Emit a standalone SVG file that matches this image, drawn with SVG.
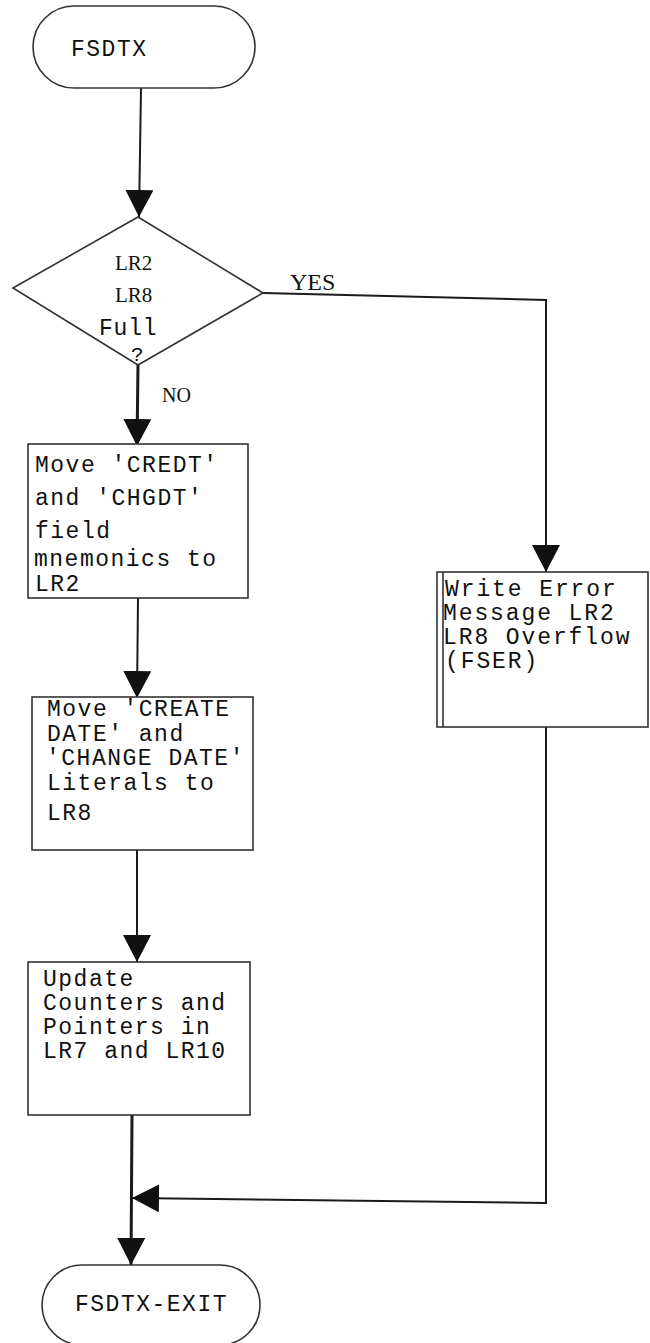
<svg xmlns="http://www.w3.org/2000/svg" width="650" height="1343" viewBox="0 0 650 1343">
  <style>
    .shape { fill: #ffffff; stroke: #333333; stroke-width: 1.6; }
    .edge { fill: none; stroke: #1a1a1a; stroke-width: 2; }
    .mono { font-family: "Liberation Mono", "Courier New", monospace; font-size: 23px; letter-spacing: 1.5px; fill: #111111; }
    .serif { font-family: "Liberation Serif", "Times New Roman", serif; fill: #111111; }
  </style>
  <defs>
    <marker id="arrow" markerUnits="userSpaceOnUse" markerWidth="30" markerHeight="30" refX="27" refY="14" orient="auto">
      <path d="M0,0 L27,14 L0,28 Z" fill="#111111"/>
    </marker>
  </defs>

  <rect width="650" height="1343" fill="#ffffff"/>

  <!-- connectors -->
  <g id="connectors">
    <path class="edge" d="M141,88 L139,217" marker-end="url(#arrow)"/>
    <path class="edge" d="M138,365 L137,446" style="stroke-width:3" marker-end="url(#arrow)"/>
    <path class="edge" d="M263,293 L546,300 L546,572" marker-end="url(#arrow)"/>
    <path class="edge" d="M138,598 L137,698" marker-end="url(#arrow)"/>
    <path class="edge" d="M137,850 L137,962" marker-end="url(#arrow)"/>
    <path class="edge" d="M132,1115 L131,1265" style="stroke-width:3" marker-end="url(#arrow)"/>
    <path class="edge" d="M546,727 L546,1203 L132,1198" marker-end="url(#arrow)"/>
  </g>

  <!-- start terminal -->
  <g id="start">
    <rect class="shape" x="33" y="6" width="222" height="82" rx="41" ry="41"/>
    <text class="mono" x="71" y="56">FSDTX</text>
  </g>

  <!-- decision -->
  <g id="decision">
    <polygon class="shape" points="13,288 138,217 263,293 138,365"/>
    <text class="serif" x="115" y="270" font-size="21">LR2</text>
    <text class="serif" x="115" y="302" font-size="21">LR8</text>
    <text class="mono" x="99" y="335" style="letter-spacing:0.8px">Full</text>
    <text class="mono" x="131" y="361" style="font-size:21px">?</text>
    <text class="serif" x="290" y="290" font-size="24">YES</text>
    <text class="serif" x="162" y="402" font-size="20">NO</text>
  </g>

  <!-- move field mnemonics -->
  <g id="move-mnemonics">
    <rect class="shape" x="28" y="444" width="220" height="154"/>
    <text class="mono" x="35" y="472">Move 'CREDT'</text>
    <text class="mono" x="35" y="505">and 'CHGDT'</text>
    <text class="mono" x="35" y="538">field</text>
    <text class="mono" x="34" y="566">mnemonics to</text>
    <text class="mono" x="35" y="591">LR2</text>
  </g>

  <!-- move literals -->
  <g id="move-literals">
    <rect class="shape" x="32" y="697" width="221" height="153"/>
    <text class="mono" x="47" y="716">Move 'CREATE</text>
    <text class="mono" x="47" y="741">DATE' and</text>
    <text class="mono" x="46" y="765">'CHANGE DATE'</text>
    <text class="mono" x="47" y="790">Literals to</text>
    <text class="mono" x="47" y="820">LR8</text>
  </g>

  <!-- update counters -->
  <g id="update-counters">
    <rect class="shape" x="28" y="962" width="222" height="153"/>
    <text class="mono" x="43" y="986">Update</text>
    <text class="mono" x="43" y="1010">Counters and</text>
    <text class="mono" x="43" y="1034">Pointers in</text>
    <text class="mono" x="43" y="1058">LR7 and LR10</text>
  </g>

  <!-- overflow error -->
  <g id="overflow-error">
    <rect class="shape" x="437" y="572" width="211" height="155"/>
    <line class="shape" x1="443" y1="572" x2="443" y2="727"/>
    <text class="mono" x="445" y="596" style="letter-spacing:1.9px">Write Error</text>
    <text class="mono" x="443" y="620" style="letter-spacing:1.9px">Message LR2</text>
    <text class="mono" x="443" y="644" style="letter-spacing:1.9px">LR8 Overflow</text>
    <text class="mono" x="445" y="668" style="letter-spacing:1.9px">(FSER)</text>
  </g>

  <!-- exit terminal -->
  <g id="exit">
    <rect class="shape" x="42" y="1265" width="218" height="80" rx="40" ry="40"/>
    <text class="mono" x="75" y="1311">FSDTX-EXIT</text>
  </g>
</svg>
